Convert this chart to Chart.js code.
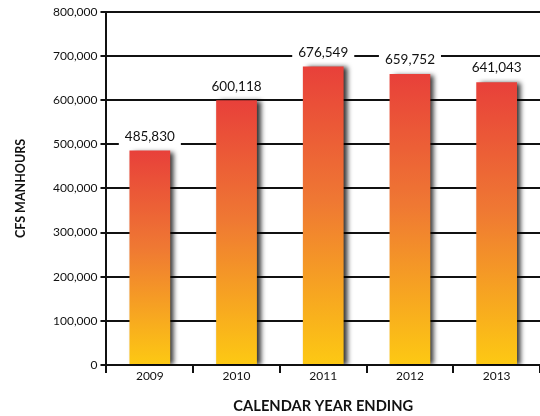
<!DOCTYPE html>
<html>
<head>
<meta charset="utf-8">
<script src="https://cdn.jsdelivr.net/npm/chart.js@4.4.1/dist/chart.umd.min.js"></script>
<style>
  html, body { margin: 0; padding: 0; background: #fff; }
  #wrap { width: 540px; height: 416px; }
</style>
</head>
<body>
<div id="wrap"><canvas id="manhoursChart" width="540" height="416"></canvas></div>
<script>
// chart data
const years = ['2009', '2010', '2011', '2012', '2013'];
const manhours = [485830, 600118, 676549, 659752, 641043];
const yTicks = [0, 100000, 200000, 300000, 400000, 500000, 600000, 700000, 800000];

const fmt = v => v.toLocaleString('en-US');

// per-bar vertical gradient, red on top to yellow at the base
function barGradient(context) {
  const chart = context.chart;
  const area = chart.chartArea;
  if (!area || context.type !== 'data') return '#ef7a33';
  const y = chart.scales.y;
  const top = y.getPixelForValue(context.raw);
  const bottom = y.getPixelForValue(0);
  const g = chart.ctx.createLinearGradient(0, top, 0, bottom);
  g.addColorStop(0, '#e8403a');
  g.addColorStop(0.45, '#ef7833');
  g.addColorStop(1, '#fdc913');
  return g;
}

// soft shadow to the right of the bars
const barShadow = {
  id: 'barShadow',
  beforeDatasetsDraw(chart) {
    const ctx = chart.ctx;
    ctx.save();
    ctx.shadowColor = 'rgba(0,0,0,0.8)';
    ctx.shadowBlur = 5;
    ctx.shadowOffsetX = 4;
    ctx.shadowOffsetY = 1;
  },
  afterDatasetsDraw(chart) {
    chart.ctx.restore();
  }
};

// value labels above bars, on a white box that cuts the grid lines
const valueLabels = {
  id: 'valueLabels',
  afterDatasetsDraw(chart) {
    const ctx = chart.ctx;
    const meta = chart.getDatasetMeta(0);
    ctx.save();
    ctx.font = '13.5px Lato';
    ctx.textAlign = 'center';
    ctx.textBaseline = 'middle';
    meta.data.forEach((bar, i) => {
      const text = fmt(manhours[i]);
      const w = ctx.measureText(text).width + 12;
      const cy = bar.y - 14;
      ctx.fillStyle = '#fff';
      ctx.fillRect(bar.x - w / 2, cy - 9, w, 18);
      ctx.fillStyle = '#111';
      ctx.fillText(text, bar.x, cy);
    });
    ctx.restore();
  }
};

const ctx = document.getElementById('manhoursChart').getContext('2d');
new Chart(ctx, {
  type: 'bar',
  data: {
    labels: years,
    datasets: [{
      label: 'CFS Manhours',
      data: manhours,
      backgroundColor: barGradient,
      borderWidth: 0,
      barPercentage: 0.47,
      categoryPercentage: 1
    }]
  },
  options: {
    responsive: false,
    animation: false,
    layout: { padding: { top: 12, right: 0, bottom: 1, left: 13 } },
    plugins: {
      legend: { display: false },
      tooltip: { enabled: false }
    },
    scales: {
      x: {
        grid: {
          display: true,
          drawOnChartArea: false,
          drawTicks: true,
          tickLength: 8,
          color: '#111',
          lineWidth: 2
        },
        border: { display: true, color: '#111', width: 2 },
        ticks: {
          color: '#111',
          font: { family: 'Lato', size: 12 },
          padding: -4
        },
        title: {
          display: true,
          text: 'CALENDAR YEAR ENDING',
          color: '#111',
          font: { family: 'Lato', size: 14.7, weight: 'bold' },
          padding: { top: 18, bottom: 0 }
        }
      },
      y: {
        min: 0,
        max: 800000,
        afterBuildTicks(axis) {
          axis.ticks = yTicks.map(v => ({ value: v }));
        },
        grid: {
          color: '#111',
          lineWidth: 2,
          tickLength: 6
        },
        border: { display: true, color: '#111', width: 2 },
        ticks: {
          color: '#111',
          font: { family: 'Lato', size: 12 },
          padding: 3,
          callback: v => fmt(v)
        },
        title: {
          display: true,
          text: 'CFS MANHOURS',
          color: '#111',
          font: { family: 'Lato', size: 12.5, weight: 'bold' },
          padding: { top: 0, bottom: 22 }
        }
      }
    }
  },
  plugins: [barShadow, valueLabels]
});
</script>
</body>
</html>
